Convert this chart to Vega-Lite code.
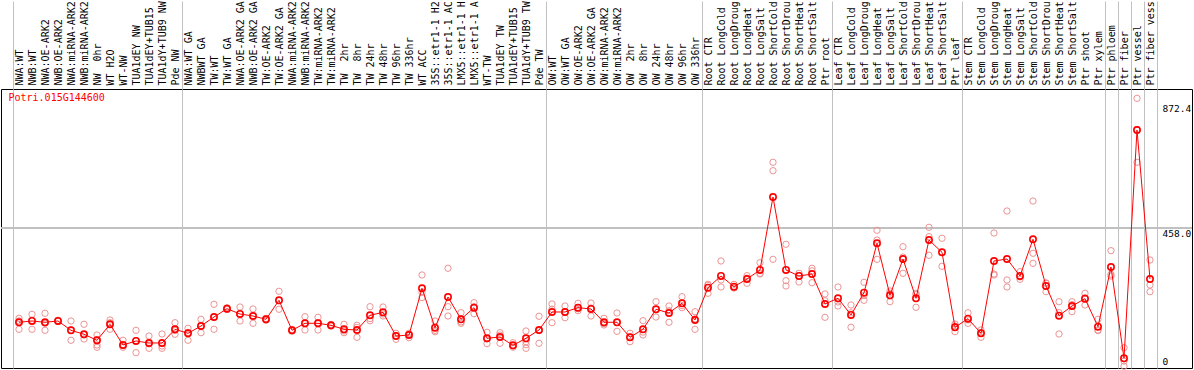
{
  "$schema": "https://vega.github.io/schema/vega-lite/v6.json",
  "width": 1191,
  "height": 279,
  "autosize": {"type": "none"},
  "padding": {"left": 1, "top": 89, "right": 2, "bottom": 2},
  "background": "white",
  "config": {"view": {"stroke": "black", "strokeWidth": 1}, "font": "DejaVu Sans Mono"},
  "data": {"values": [
    {"g": "NWA:WT", "m": 145.6, "r1": 158.8, "r2": 122.3, "r3": 150},
    {"g": "NWB:WT", "m": 149.9, "r1": 172.1, "r2": 122.3, "r3": 152},
    {"g": "NWA:OE-ARK2", "m": 145.6, "r1": 175.4, "r2": 119.0, "r3": 142},
    {"g": "NWB:OE-ARK2", "m": 149.9, "r1": 148, "r2": 152, "r3": 150},
    {"g": "NWA:miRNA-ARK2", "m": 119.0, "r1": 149.9, "r2": 85.9, "r3": 120},
    {"g": "NWB:miRNA-ARK2", "m": 105.8, "r1": 138.9, "r2": 90.2, "r3": 104},
    {"g": "NW \u00a00hr", "m": 85.9, "r1": 103.4, "r2": 70.3, "r3": 62.7, "r4": 88},
    {"g": "WT H2O", "m": 138.9, "r1": 153.2, "r2": 144.2, "r3": 122.3},
    {"g": "WT-NW", "m": 70.3, "r1": 85.9, "r2": 62.7, "r3": 68},
    {"g": "TUA1dEY NW", "m": 83.6, "r1": 119.0, "r2": 44.8, "r3": 85},
    {"g": "TUA1dEY+TUB15", "m": 76.9, "r1": 100.1, "r2": 59.3, "r3": 74},
    {"g": "TUA1dY+TUB9 NW", "m": 76.9, "r1": 106.8, "r2": 67.0, "r3": 59.3},
    {"g": "Pde NW", "m": 122.3, "r1": 144.2, "r2": 105.8, "r3": 118},
    {"g": "NWA:WT GA", "m": 109.1, "r1": 125.7, "r2": 85.9, "r3": 112},
    {"g": "NWBWT GA", "m": 133.3, "r1": 155.5, "r2": 111.1, "r3": 133},
    {"g": "TW:WT", "m": 163.1, "r1": 205.2, "r2": 122.3, "r3": 162},
    {"g": "TW:WT GA", "m": 190.6, "r1": 194.0, "r2": 187.6, "r3": 190},
    {"g": "NWA:OE-ARK2 GA", "m": 173.1, "r1": 196.3, "r2": 149.9, "r3": 173},
    {"g": "NWB:OE-ARK2 GA", "m": 166.4, "r1": 189.7, "r2": 142.2, "r3": 167},
    {"g": "TW:OE-ARK2", "m": 155.5, "r1": 152.5, "r2": 158.6, "r3": 155},
    {"g": "TW:OE-ARK2 GA", "m": 218.5, "r1": 248.3, "r2": 188.7, "r3": 218},
    {"g": "NWA:miRNA-ARK2\u200b", "m": 119.0, "r1": 116, "r2": 122, "r3": 119},
    {"g": "NWB:miRNA-ARK2\u200b", "m": 142.2, "r1": 164.1, "r2": 120.0, "r3": 142.5},
    {"g": "TW:miRNA-ARK2", "m": 142.2, "r1": 162.1, "r2": 120.0, "r3": 144.5},
    {"g": "TW:miRNA-ARK2\u200b", "m": 135.6, "r1": 138.5, "r2": 132.7, "r3": 135.6},
    {"g": "TW \u00a02hr", "m": 122.3, "r1": 138.9, "r2": 111.1, "r3": 117},
    {"g": "TW \u00a08hr", "m": 120.0, "r1": 135.6, "r2": 95.8, "r3": 128.6},
    {"g": "TW 24hr", "m": 168.8, "r1": 197.3, "r2": 150.9, "r3": 158},
    {"g": "TW 48hr", "m": 178.7, "r1": 196.3, "r2": 166.4, "r3": 173},
    {"g": "TW 96hr", "m": 100.1, "r1": 109.1, "r2": 89.2, "r3": 102},
    {"g": "TW 336hr", "m": 103.4, "r1": 109.1, "r2": 94.5, "r3": 106.6},
    {"g": "WT ACC", "m": 258.3, "r1": 302.4, "r2": 245.0, "r3": 227.5},
    {"g": "35S::etr1-1 H2", "m": 127.7, "r1": 149.9, "r2": 114.4, "r3": 119},
    {"g": "35S::etr1-1 AC", "m": 229.4, "r1": 324.6, "r2": 197.3, "r3": 166.4},
    {"g": "LMX5::etr1-1 H", "m": 155.5, "r1": 177.4, "r2": 142.2, "r3": 147},
    {"g": "LMX5::etr1-1 A", "m": 194.0, "r1": 210.5, "r2": 197.3, "r3": 174},
    {"g": "WT-TW", "m": 92.5, "r1": 112.4, "r2": 74.6, "r3": 90.5},
    {"g": "TUA1dEY TW", "m": 96.8, "r1": 111.1, "r2": 103.4, "r3": 76},
    {"g": "TUA1dEY+TUB15\u200b", "m": 69.3, "r1": 77.9, "r2": 67.0, "r3": 63},
    {"g": "TUA1dY+TUB9 TW", "m": 92.5, "r1": 116.7, "r2": 71.3, "r3": 59.3, "r4": 81.2},
    {"g": "Pde TW", "m": 120.0, "r1": 165.5, "r2": 75.9, "r3": 118},
    {"g": "OW:WT", "m": 179.7, "r1": 206.2, "r2": 144.2, "r3": 189},
    {"g": "OW:WT GA", "m": 179.7, "r1": 199.6, "r2": 160.8, "r3": 178},
    {"g": "OW:OE-ARK2", "m": 194.0, "r1": 208.5, "r2": 184.0, "r3": 190},
    {"g": "OW:OE-ARK2 GA", "m": 189.7, "r1": 209.5, "r2": 166.4, "r3": 193},
    {"g": "OW:miRNA-ARK2", "m": 145.6, "r1": 158.8, "r2": 136.6, "r3": 141},
    {"g": "OW:miRNA-ARK2\u200b", "m": 145.6, "r1": 176.4, "r2": 115.7, "r3": 145},
    {"g": "OW \u00a02hr", "m": 95.8, "r1": 109.1, "r2": 81.2, "r3": 97},
    {"g": "OW \u00a08hr", "m": 122.3, "r1": 150.9, "r2": 103.4, "r3": 113},
    {"g": "OW 24hr", "m": 188.7, "r1": 213.9, "r2": 163.1, "r3": 189},
    {"g": "OW 48hr", "m": 176.4, "r1": 199.6, "r2": 145.6, "r3": 184},
    {"g": "OW 96hr", "m": 208.5, "r1": 230.4, "r2": 194.0, "r3": 201},
    {"g": "OW 336hr", "m": 153.2, "r1": 180.7, "r2": 122.3, "r3": 157},
    {"g": "Root CTR", "m": 260.3, "r1": 271.5, "r2": 241.7, "r3": 268},
    {"g": "Root LongCold", "m": 299.1, "r1": 348.8, "r2": 262.6, "r3": 286},
    {"g": "Root LongDroug", "m": 263.6, "r1": 271.5, "r2": 259.3, "r3": 260},
    {"g": "Root LongHeat", "m": 289.1, "r1": 300.1, "r2": 274.9, "r3": 292},
    {"g": "Root LongSalt", "m": 319.0, "r1": 343.2, "r2": 305.7, "r3": 308},
    {"g": "Root ShortCold", "m": 561.0, "r1": 676.1, "r2": 648.2, "r3": 354.4},
    {"g": "Root ShortDrou", "m": 319.0, "r1": 404.2, "r2": 283.5, "r3": 265.9},
    {"g": "Root ShortHeat", "m": 299.1, "r1": 308.0, "r2": 279.2, "r3": 301},
    {"g": "Root ShortSalt", "m": 305.7, "r1": 324.6, "r2": 276.9, "r3": 316},
    {"g": "Ptr root", "m": 206.2, "r1": 239.4, "r2": 162.1, "r3": 217},
    {"g": "Leaf CTR", "m": 225.1, "r1": 262.6, "r2": 199.6, "r3": 213},
    {"g": "Leaf LongCold", "m": 169.8, "r1": 202.9, "r2": 129.0, "r3": 177},
    {"g": "Leaf LongDroug", "m": 243.7, "r1": 278.2, "r2": 218.5, "r3": 234},
    {"g": "Leaf LongHeat", "m": 407.5, "r1": 450.6, "r2": 354.4, "r3": 418.4},
    {"g": "Leaf LongSalt", "m": 235.1, "r1": 213.9, "r2": 249.3, "r3": 242},
    {"g": "Leaf ShortCold", "m": 355.4, "r1": 396.2, "r2": 308.0, "r3": 362},
    {"g": "Leaf ShortDrou", "m": 225.1, "r1": 195.3, "r2": 241.7, "r3": 238},
    {"g": "Leaf ShortHeat", "m": 418.4, "r1": 460.5, "r2": 367.7, "r3": 429.4},
    {"g": "Leaf ShortSalt", "m": 377.6, "r1": 424.1, "r2": 331.2, "r3": 378},
    {"g": "Ptr leaf", "m": 129.0, "r1": 139.9, "r2": 114.4, "r3": 133},
    {"g": "Stem CTR", "m": 157.5, "r1": 177.4, "r2": 153.2, "r3": 142},
    {"g": "Stem LongCold", "m": 109.1, "r1": 120.0, "r2": 95.8, "r3": 111},
    {"g": "Stem LongDroug", "m": 348.8, "r1": 441.6, "r2": 302.4, "r3": 305.7},
    {"g": "Stem LongHeat", "m": 355.4, "r1": 514.6, "r2": 285.8, "r3": 262.6},
    {"g": "Stem LongSalt", "m": 299.1, "r1": 313.3, "r2": 288.1, "r3": 296},
    {"g": "Stem ShortCold", "m": 420.8, "r1": 547.7, "r2": 374.3, "r3": 341.2},
    {"g": "Stem ShortDrou", "m": 265.9, "r1": 274.9, "r2": 247.0, "r3": 276},
    {"g": "Stem ShortHeat", "m": 167.4, "r1": 213.9, "r2": 106.8, "r3": 177.4},
    {"g": "Stem ShortSalt", "m": 199.6, "r1": 213.9, "r2": 180.7, "r3": 204},
    {"g": "Ptr shoot", "m": 223.8, "r1": 241.7, "r2": 202.9, "r3": 227},
    {"g": "Ptr xylem", "m": 131.0, "r1": 155.5, "r2": 120.0, "r3": 118},
    {"g": "Ptr phloem", "m": 328.9, "r1": 383.0, "r2": 304.7, "r3": 299},
    {"g": "Ptr fiber", "m": 26.2, "r1": 61.3, "r2": 0, "r3": 17},
    {"g": "Ptr vessel", "m": 783.1, "r1": 888.2, "r2": 676.1, "r3": 785},
    {"g": "Ptr fiber vess", "m": 289.1, "r1": 352.1, "r2": 269.2, "r3": 247.0}
  ]},
  "encoding": {
    "x": {
      "field": "g", "type": "nominal", "sort": null,
      "scale": {"type": "band", "range": [11.5, 1155.5], "paddingInner": 0, "paddingOuter": 0},
      "axis": {
        "orient": "top",
        "title": "Potri.015G144600",
        "titleX": 7, "titleY": 8, "titleAlign": "left", "titleBaseline": "middle", "titleAngle": 0,
        "titleColor": "#ff0000", "titleFont": "DejaVu Sans Mono", "titleFontSize": 10, "titleFontWeight": "normal",
        "labelAngle": -90, "labelAlign": "left", "labelBaseline": "middle",
        "labelFont": "DejaVu Sans Mono", "labelFontSize": 10, "labelColor": "black",
        "labelPadding": -84, "labelOverlap": false,
        "domain": false,
        "ticks": true, "tickSize": 88, "tickColor": "#c0c0c0", "tickWidth": 1, "tickBand": "extent",
        "tickOpacity": {"condition": {"test": "datum.extra || indexof(['Pde NW','Pde TW','OW 336hr','Ptr root','Ptr leaf','Ptr xylem','Ptr phloem','Ptr fiber','Ptr vessel','Ptr fiber vess'], datum.value) >= 0", "value": 1}, "value": 0},
        "grid": true, "gridColor": "#c0c0c0", "gridWidth": 1,
        "gridOpacity": {"condition": {"test": "datum.extra || indexof(['Pde NW','Pde TW','OW 336hr','Ptr root','Ptr leaf','Ptr xylem','Ptr phloem','Ptr fiber','Ptr vessel','Ptr fiber vess'], datum.value) >= 0", "value": 1}, "value": 0}
      }
    }
  },
  "layer": [
    {
      "mark": {"type": "rule", "color": "#c0c0c0", "strokeWidth": 1},
      "encoding": {"y": {"datum": 458, "type": "quantitative", "scale": {"domain": [-6, 919.1], "nice": false, "zero": false},
        "axis": {"orient": "right", "offset": -30, "values": [0, 458, 872.4], "title": null, "labelExpr": "datum.value == 0 ? '0' : format(datum.value, '.1f')", "domain": false, "ticks": false, "grid": false, "labelPadding": 0, "labelAlign": "left", "labelBaseline": {"condition": {"test": "datum.value == 0", "value": "bottom"}, "value": "top"}, "labelFont": "DejaVu Sans Mono", "labelFontSize": 9.5, "labelColor": "black", "labelOverlap": false}}, "x": null}
    },
    {
      "mark": {"type": "point", "shape": "circle", "filled": false, "color": "#ec9494", "strokeWidth": 1, "size": 40, "opacity": 1},
      "encoding": {"y": {"field": "r1", "type": "quantitative", "scale": {"domain": [-6, 919.1], "nice": false, "zero": false},
        "axis": {"orient": "right", "offset": -30, "values": [0, 458, 872.4], "title": null, "labelExpr": "datum.value == 0 ? '0' : format(datum.value, '.1f')", "domain": false, "ticks": false, "grid": false, "labelPadding": 0, "labelAlign": "left", "labelBaseline": {"condition": {"test": "datum.value == 0", "value": "bottom"}, "value": "top"}, "labelFont": "DejaVu Sans Mono", "labelFontSize": 9.5, "labelColor": "black", "labelOverlap": false}}}
    },
    {
      "mark": {"type": "point", "shape": "circle", "filled": false, "color": "#ec9494", "strokeWidth": 1, "size": 40, "opacity": 1},
      "encoding": {"y": {"field": "r2", "type": "quantitative", "scale": {"domain": [-6, 919.1], "nice": false, "zero": false},
        "axis": {"orient": "right", "offset": -30, "values": [0, 458, 872.4], "title": null, "labelExpr": "datum.value == 0 ? '0' : format(datum.value, '.1f')", "domain": false, "ticks": false, "grid": false, "labelPadding": 0, "labelAlign": "left", "labelBaseline": {"condition": {"test": "datum.value == 0", "value": "bottom"}, "value": "top"}, "labelFont": "DejaVu Sans Mono", "labelFontSize": 9.5, "labelColor": "black", "labelOverlap": false}}}
    },
    {
      "mark": {"type": "point", "shape": "circle", "filled": false, "color": "#ec9494", "strokeWidth": 1, "size": 40, "opacity": 1},
      "encoding": {"y": {"field": "r3", "type": "quantitative", "scale": {"domain": [-6, 919.1], "nice": false, "zero": false},
        "axis": {"orient": "right", "offset": -30, "values": [0, 458, 872.4], "title": null, "labelExpr": "datum.value == 0 ? '0' : format(datum.value, '.1f')", "domain": false, "ticks": false, "grid": false, "labelPadding": 0, "labelAlign": "left", "labelBaseline": {"condition": {"test": "datum.value == 0", "value": "bottom"}, "value": "top"}, "labelFont": "DejaVu Sans Mono", "labelFontSize": 9.5, "labelColor": "black", "labelOverlap": false}}}
    },
    {
      "mark": {"type": "point", "shape": "circle", "filled": false, "color": "#ec9494", "strokeWidth": 1, "size": 40, "opacity": 1},
      "encoding": {"y": {"field": "r4", "type": "quantitative", "scale": {"domain": [-6, 919.1], "nice": false, "zero": false},
        "axis": {"orient": "right", "offset": -30, "values": [0, 458, 872.4], "title": null, "labelExpr": "datum.value == 0 ? '0' : format(datum.value, '.1f')", "domain": false, "ticks": false, "grid": false, "labelPadding": 0, "labelAlign": "left", "labelBaseline": {"condition": {"test": "datum.value == 0", "value": "bottom"}, "value": "top"}, "labelFont": "DejaVu Sans Mono", "labelFontSize": 9.5, "labelColor": "black", "labelOverlap": false}}}
    },
    {
      "mark": {"type": "line", "color": "#ff0000", "strokeWidth": 1},
      "encoding": {"y": {"field": "m", "type": "quantitative", "scale": {"domain": [-6, 919.1], "nice": false, "zero": false},
        "axis": {"orient": "right", "offset": -30, "values": [0, 458, 872.4], "title": null, "labelExpr": "datum.value == 0 ? '0' : format(datum.value, '.1f')", "domain": false, "ticks": false, "grid": false, "labelPadding": 0, "labelAlign": "left", "labelBaseline": {"condition": {"test": "datum.value == 0", "value": "bottom"}, "value": "top"}, "labelFont": "DejaVu Sans Mono", "labelFontSize": 9.5, "labelColor": "black", "labelOverlap": false}}}
    },
    {
      "mark": {"type": "point", "shape": "circle", "filled": false, "color": "#ff0000", "strokeWidth": 1.6, "size": 40, "opacity": 1},
      "encoding": {"y": {"field": "m", "type": "quantitative", "scale": {"domain": [-6, 919.1], "nice": false, "zero": false},
        "axis": {"orient": "right", "offset": -30, "values": [0, 458, 872.4], "title": null, "labelExpr": "datum.value == 0 ? '0' : format(datum.value, '.1f')", "domain": false, "ticks": false, "grid": false, "labelPadding": 0, "labelAlign": "left", "labelBaseline": {"condition": {"test": "datum.value == 0", "value": "bottom"}, "value": "top"}, "labelFont": "DejaVu Sans Mono", "labelFontSize": 9.5, "labelColor": "black", "labelOverlap": false}}}
    }
  ]
}
